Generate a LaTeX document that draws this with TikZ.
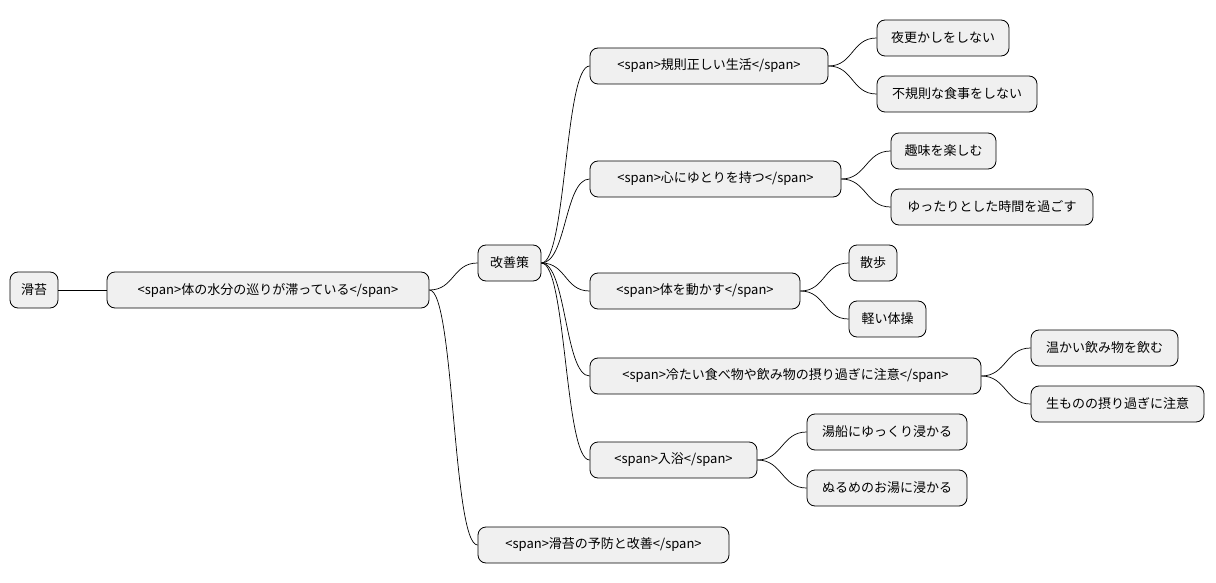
\documentclass[tikz,border=0pt]{standalone}
\usepackage{fontspec}
\setmainfont{Noto Sans CJK JP}
\begin{document}
\begin{tikzpicture}[x=1pt,y=-1pt,
 box/.style={draw=black,fill=black!6,rounded corners=8pt,minimum height=36pt,inner xsep=0pt,font=\fontsize{13}{15}\selectfont,line width=0.8pt},
 e/.style={draw=black,line width=0.7pt}]
\useasboundingbox (0,0) rectangle (1216,583);
\newcommand\nd[5]{\node[box,minimum width=#4-#3] (#1) at ({(#3+#4)/2},#5) {#2};}
\nd{r}{滑苔}{10}{58}{290}
\nd{a}{<span>体の水分の巡りが滞っている</span>}{107}{429}{290}
\nd{b}{改善策}{478}{541}{263}
\nd{c}{<span>滑苔の予防と改善</span>}{478}{729}{545}
\nd{b1}{<span>規則正しい生活</span>}{590}{828}{66}
\nd{b2}{<span>心にゆとりを持つ</span>}{590}{841}{179}
\nd{b3}{<span>体を動かす</span>}{590}{800}{291}
\nd{b4}{<span>冷たい食べ物や飲み物の摂り過ぎに注意</span>}{590}{981}{376}
\nd{b5}{<span>入浴</span>}{590}{757}{460}
\nd{l1}{夜更かしをしない}{877}{1009}{38}
\nd{l2}{不規則な食事をしない}{877}{1037}{94}
\nd{l3}{趣味を楽しむ}{891}{996}{151}
\nd{l4}{ゆったりとした時間を過ごす}{891}{1093}{207}
\nd{l5}{散歩}{849}{897}{263}
\nd{l6}{軽い体操}{849}{926}{319}
\nd{l7}{温かい飲み物を飲む}{1031}{1178}{348}
\nd{l8}{生ものの摂り過ぎに注意}{1031}{1204}{404}
\nd{l9}{湯船にゆっくり浸かる}{807}{967}{432}
\nd{l10}{ぬるめのお湯に浸かる}{807}{967}{488}
\foreach \p/\c in {r/a,a/b,a/c,b/b1,b/b2,b/b3,b/b4,b/b5,b1/l1,b1/l2,b2/l3,b2/l4,b3/l5,b3/l6,b4/l7,b4/l8,b5/l9,b5/l10}
 \draw[e] (\p.east) .. controls +(25,0) and +(-25,0) .. (\c.west);
\end{tikzpicture}
\end{document}
